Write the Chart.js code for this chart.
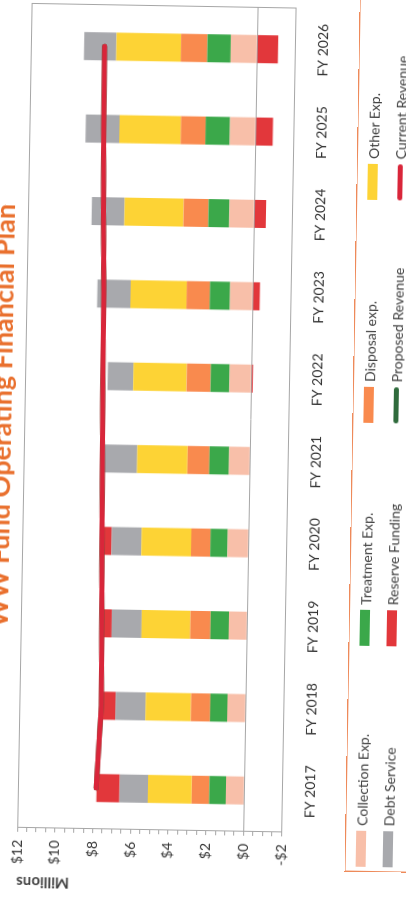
<!DOCTYPE html>
<html><head><meta charset="utf-8">
<script src="https://cdn.jsdelivr.net/npm/chart.js@4.4.1/dist/chart.umd.min.js"></script>
<style>
html,body{margin:0;padding:0;width:406px;height:903px;overflow:hidden;background:#fff;}
#wrap{position:absolute;left:-276.4px;top:220.8px;width:960px;height:440px;transform:rotate(-89deg);transform-origin:50% 50%;}
#c{position:absolute;left:0;top:0;}
#title{position:absolute;left:202px;width:600px;top:1px;height:32px;line-height:32px;text-align:center;font-family:Lato,"Open Sans",sans-serif;font-weight:bold;font-size:27px;color:#E9702E;white-space:nowrap;}
#legend{position:absolute;left:52px;top:368px;width:900px;height:110px;border:1.5px solid #EE8A5A;box-sizing:border-box;font-family:Lato,"Open Sans",sans-serif;font-size:14px;color:#404040;}
.item{position:absolute;display:flex;align-items:center;white-space:nowrap;height:16px;}
.sw{width:36px;height:10px;margin-right:5px;flex:none;}
.ln{width:36px;height:5px;border-radius:3px;margin-right:5px;flex:none;}
</style></head>
<body>
<div id="wrap"><canvas id="c" width="960" height="440"></canvas><div id="title">WW Fund Operating Financial Plan</div><div id="legend"></div></div>
<script>
const categories = ['FY 2017','FY 2018','FY 2019','FY 2020','FY 2021','FY 2022','FY 2023','FY 2024','FY 2025','FY 2026'];
const collectionExp = [0.97, 0.97, 0.97, 1.11, 1.11, 1.16, 1.21, 1.32, 1.37, 1.40];
const treatmentExp  = [0.88, 0.91, 0.97, 0.91, 1.04, 1.00, 1.07, 1.11, 1.29, 1.24];
const disposalExp   = [0.93, 1.02, 1.07, 1.02, 1.16, 1.27, 1.23, 1.32, 1.31, 1.40];
const otherExp      = [2.32, 2.41, 2.58, 2.64, 2.67, 2.83, 2.97, 3.13, 3.26, 3.42];
const debtService   = [1.51, 1.59, 1.59, 1.58, 1.76, 1.36, 1.77, 1.74, 1.79, 1.72];
const reserveFunding= [1.22, 0.75, 0.53, 0.51, 0.00, -0.08, -0.37, -0.62, -0.91, -1.11];
const proposedRevenue=[7.85, 7.65, 7.70, 7.77, 7.83, 7.88, 7.91, 8.00, 8.06, 8.09];
const currentRevenue =[7.85, 7.65, 7.70, 7.77, 7.83, 7.88, 7.91, 8.00, 8.06, 8.09];
const valueTicks = {min: -2, max: 12, major: 2, minor: 0.5};

const FONT = 'Lato, "Open Sans", sans-serif';
const bar = (label, data, color) => ({type:'bar', label, data, backgroundColor: color, borderWidth:0, stack:'exp', order:2, barPercentage:0.34, categoryPercentage:1});
const line = (label, data, color, order, stack) => ({type:'line', label, data, borderColor: color, backgroundColor: color, borderWidth:5, pointRadius:0, tension:0, borderCapStyle:'round', order, stack, fill:false});

const datasets = [
  bar('Collection Exp.', collectionExp, '#F8BFA9'),
  bar('Treatment Exp.', treatmentExp, '#3BA84A'),
  bar('Disposal exp.', disposalExp, '#F98A4E'),
  bar('Other Exp.', otherExp, '#FDD335'),
  bar('Debt Service', debtService, '#A8A9AD'),
  bar('Reserve Funding', reserveFunding, '#E2373B'),
  line('Proposed Revenue', proposedRevenue, '#2F6B3C', 1, 'prop'),
  line('Current Revenue', currentRevenue, '#D9263A', 0, 'cur')
];

const borderPlugin = {
  id:'plotBorder',
  afterDraw(chart){
    const {ctx, chartArea:a} = chart;
    ctx.save();
    ctx.strokeStyle = '#A6A6A6';
    ctx.lineWidth = 1;
    ctx.strokeRect(Math.round(a.left)+0.5, Math.round(a.top)+0.5, Math.round(a.right-a.left), Math.round(a.bottom-a.top));
    ctx.restore();
  }
};

const chart = new Chart(document.getElementById('c'), {
  data: {labels: categories, datasets},
  options: {
    responsive:false, animation:false, devicePixelRatio:1,
    layout:{padding:{left:0,right:46,top:40,bottom:0}},
    plugins:{
      legend:{display:false},
      tooltip:{enabled:false},
      title:{display:false}
    },
    scales:{
      x:{stacked:true, grid:{display:false}, border:{display:false},
        ticks:{color:'#333', font:{family:FONT,size:14}, padding:12, maxRotation:0, autoSkip:false},
        afterFit(s){ s.height = 136; }},
      y:{stacked:true, min:valueTicks.min, max:valueTicks.max,
        border:{display:true, color:'#A6A6A6'},
        grid:{drawOnChartArea:true, color:(c)=> (c.tick && c.tick.value===0) ? '#A6A6A6' : 'rgba(0,0,0,0)', tickColor:'#A6A6A6', tickLength:4},
        ticks:{stepSize:valueTicks.minor, autoSkip:false, color:'#333', font:{family:FONT,size:14}, padding:8,
          callback:(v)=> (Math.abs(v % valueTicks.major) < 1e-9) ? (v<0 ? '-$'+Math.abs(v) : '$'+v) : ''},
        title:{display:true, text:'Millions', align:'end', color:'#404040', font:{family:FONT,size:15,weight:'bold'}, padding:{top:27,bottom:0}},
        afterFit(s){ s.width = 90; }}
    }
  },
  plugins:[borderPlugin]
});

// HTML legend in 4 columns x 2 rows
const leg = document.getElementById('legend');
const colX = [4, 225, 448, 671];
const rowY = [7, 34];
datasets.forEach((d,i)=>{
  const it = document.createElement('div');
  it.className='item';
  it.style.left = colX[i%4]+'px';
  it.style.top = rowY[Math.floor(i/4)]+'px';
  const sw = document.createElement('span');
  sw.className = d.type==='line' ? 'ln' : 'sw';
  sw.style.background = d.type==='line' ? d.borderColor : d.backgroundColor;
  const tx = document.createElement('span');
  tx.textContent = d.label;
  it.appendChild(sw); it.appendChild(tx);
  leg.appendChild(it);
});
</script>
</body></html>
